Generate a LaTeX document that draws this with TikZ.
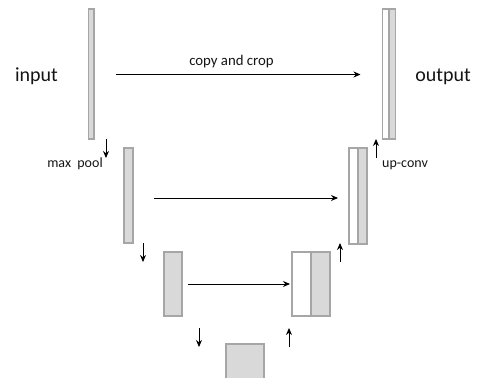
\documentclass[tikz,border=0pt]{standalone}
\usepackage{fontspec}
\setmainfont{Carlito}
\usetikzlibrary{arrows.meta}
\definecolor{barfill}{RGB}{217,217,217}
\definecolor{bardraw}{RGB}{166,166,166}
\definecolor{txt}{RGB}{20,20,20}
\tikzset{
  bar/.style={draw=bardraw, line width=1.3pt, fill=barfill, inner sep=0pt, outer sep=0pt, anchor=north west},
  wbar/.style={bar, fill=white},
  conn/.style={line width=0.9pt, -{Stealth[length=7pt,width=6pt]}},
  small/.style={font=\fontsize{14}{16}\selectfont, text=txt, inner sep=0pt},
  big/.style={font=\fontsize{20}{24}\selectfont, text=txt, inner sep=0pt},
}
\begin{document}
\begin{tikzpicture}[x=1pt,y=-1pt]
\useasboundingbox (0,0) rectangle (486,377);
\clip (0,0) rectangle (486,377);
% encoder
\node[bar, minimum width=5.5pt, minimum height=130pt] (e1) at (88.5,9) {};
\node[bar, minimum width=9pt, minimum height=95pt] (e2) at (124,148) {};
\node[bar, minimum width=18pt, minimum height=64pt] (e3) at (164,252) {};
\node[bar, minimum width=38pt, minimum height=60pt] (bt) at (226,344) {};
% decoder
\node[wbar, minimum width=19pt, minimum height=64pt] (d3w) at (292,252) {};
\node[bar, minimum width=19pt, minimum height=64pt] (d3g) at (311,252) {};
\node[wbar, minimum width=9pt, minimum height=96pt] (d2w) at (349,148) {};
\node[bar, minimum width=9pt, minimum height=96pt] (d2g) at (358,148) {};
\node[wbar, minimum width=6.5pt, minimum height=130pt] (d1w) at (382.5,9) {};
\node[bar, minimum width=6.5pt, minimum height=130pt] (d1g) at (389,9) {};
% labels
\node[big, anchor=base] (in) at (36.5,81.5) {input};
\node[big, anchor=base] (out) at (443,81.5) {output};
\node[small, anchor=base, font=\fontsize{14.8}{17}\selectfont] (cc) at (231.5,66) {copy and crop};
\node[small, anchor=base] (mp) at (75,167) {max\ \ pool};
\node[small, anchor=base west] (uc) at (382,167) {up-conv};
% copy and crop connectors
\draw[conn] ([xshift=22pt]e1.east |- 0,74.5) -- ([xshift=-22pt]d1w.west |- 0,74.5);
\draw[conn] ([xshift=21pt]e2.east |- 0,198) -- ([xshift=-11pt]d2w.west |- 0,198);
\draw[conn] ([xshift=6pt]e3.east |- 0,284) -- ([xshift=-2pt]d3w.west |- 0,284);
% max pool arrows
\coordinate (p1a) at (106,139); \coordinate (p1b) at (106,158);
\coordinate (p2a) at (143,243); \coordinate (p2b) at (143,262);
\coordinate (p3a) at (199,328); \coordinate (p3b) at (199,347);
\draw[conn] (p1a) -- (p1b);
\draw[conn] (p2a) -- (p2b);
\draw[conn] (p3a) -- (p3b);
% up-conv arrows
\coordinate (u1a) at (289,347); \coordinate (u1b) at (289,328);
\coordinate (u2a) at (340,262); \coordinate (u2b) at (340,243);
\coordinate (u3a) at (376,158); \coordinate (u3b) at (376,139);
\draw[conn] (u1a) -- (u1b);
\draw[conn] (u2a) -- (u2b);
\draw[conn] (u3a) -- (u3b);
\end{tikzpicture}
\end{document}
